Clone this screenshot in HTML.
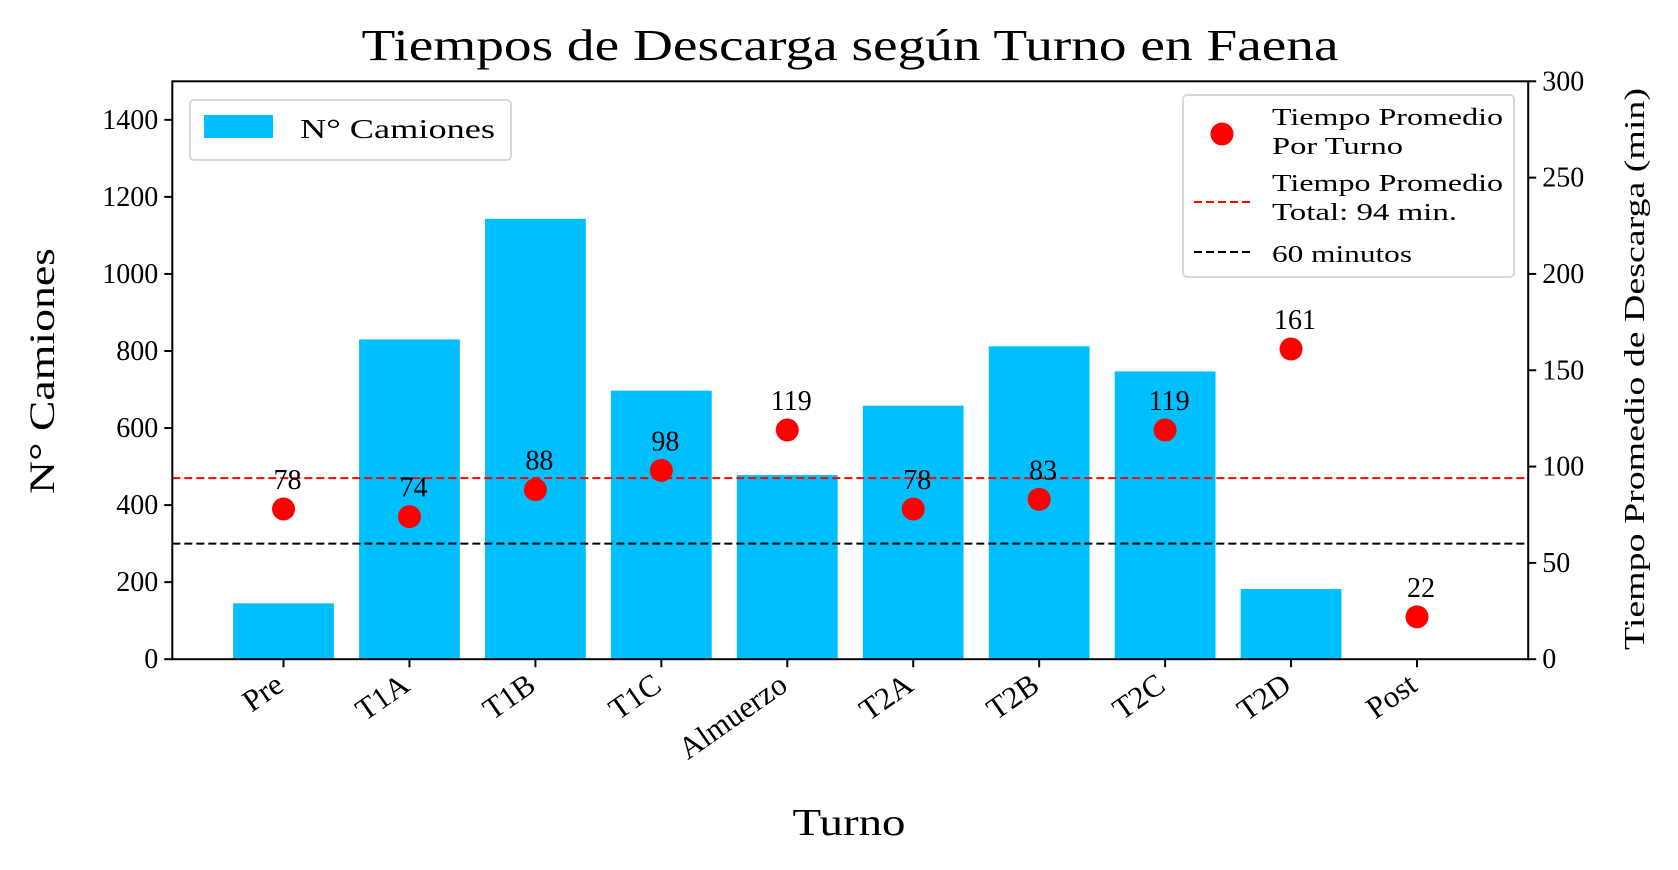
<!DOCTYPE html>
<html><head><meta charset="utf-8"><style>
body{margin:0;background:#fff}
svg{display:block;font-family:"Liberation Serif",serif}
</style></head><body>
<svg id="chart" width="1678" height="870" viewBox="0 0 1678 870">
<text x="850" y="60" font-size="44" text-anchor="middle" textLength="977" lengthAdjust="spacingAndGlyphs">Tiempos de Descarga según Turno en Faena</text>
<g id="plot"></g>
<text transform="translate(54,371) rotate(-90)" font-size="36" text-anchor="middle" textLength="246" lengthAdjust="spacingAndGlyphs">N° Camiones</text>
<text transform="translate(1644,369) rotate(-90)" font-size="28" text-anchor="middle" textLength="562" lengthAdjust="spacingAndGlyphs">Tiempo Promedio de Descarga (min)</text>
<text x="849" y="835" font-size="38" text-anchor="middle" textLength="113" lengthAdjust="spacingAndGlyphs">Turno</text>
<g>
<rect x="190" y="100" width="321" height="60" rx="4" fill="#fff" stroke="#d8d8d8" stroke-width="2"/>
<rect x="204" y="115" width="69" height="23" fill="#00bfff"/>
<text x="300" y="138" font-size="27" textLength="195" lengthAdjust="spacingAndGlyphs">N° Camiones</text>
</g>
<g>
<rect x="1183" y="95" width="331" height="182" rx="4" fill="#fff" stroke="#d8d8d8" stroke-width="2"/>
<circle cx="1222" cy="134" r="11.5" fill="#ff0000"/>
<text x="1272" y="125" font-size="24" textLength="231" lengthAdjust="spacingAndGlyphs">Tiempo Promedio</text>
<text x="1272" y="154" font-size="24" textLength="131" lengthAdjust="spacingAndGlyphs">Por Turno</text>
<line x1="1194" y1="202" x2="1250" y2="202" stroke="#ff0000" stroke-width="2" stroke-dasharray="8,4"/>
<text x="1272" y="191" font-size="24" textLength="231" lengthAdjust="spacingAndGlyphs">Tiempo Promedio</text>
<text x="1272" y="220" font-size="24" textLength="185" lengthAdjust="spacingAndGlyphs">Total: 94 min.</text>
<line x1="1194" y1="252" x2="1250" y2="252" stroke="#000" stroke-width="2" stroke-dasharray="8,4"/>
<text x="1272" y="262" font-size="24" textLength="140" lengthAdjust="spacingAndGlyphs">60 minutos</text>
</g>
</svg>
<script>
const categories=["Pre","T1A","T1B","T1C","Almuerzo","T2A","T2B","T2C","T2D","Post"];
const camiones=[145,830,1143,697,478,658,812,747,182,0];
const tiempos=[78,74,88,98,119,78,83,119,161,22];
const promedioTotal=94;
const limite60=60;
const yTicks=[0,200,400,600,800,1000,1200,1400];
const y2Ticks=[0,50,100,150,200,250,300];

const L=172.3,R=1528.2,T=81.3,B=659.2,pad=0.883;
const n=categories.length;
const xs=i=>L+(i+pad)*(R-L)/(n-1+2*pad);
const step=(R-L)/(n-1+2*pad);
const y=v=>B-v*(B-T)/1500;
const y2=v=>B-v*(B-T)/300;
const NS="http://www.w3.org/2000/svg";
const g=document.getElementById('plot');
function mk(tag,attrs,parent){const e=document.createElementNS(NS,tag);for(const k in attrs)e.setAttribute(k,attrs[k]);(parent||g).appendChild(e);return e;}

categories.forEach((c,i)=>{
  const h=camiones[i];
  const r=mk('rect',{x:xs(i)-0.4*step,y:y(h),width:0.8*step,height:B-y(h),fill:'#00bfff'});
  
  
});
[[promedioTotal,'#ff0000','avg-total-line'],[limite60,'#000','sixty-min-line']].forEach(([v,col,nm])=>{
  const l=mk('line',{x1:L,x2:R,y1:y2(v),y2:y2(v),stroke:col,'stroke-width':2,'stroke-dasharray':'8,4'});
  
  
});
tiempos.forEach((v,i)=>{
  const p=mk('circle',{cx:xs(i),cy:y2(v),r:11.5,fill:'#ff0000'});
  
  
  const t=mk('text',{x:xs(i)+4,y:y2(v)-20,'font-size':28,'text-anchor':'middle'});
  t.textContent=v;
  
  
});
const frame=mk('rect',{x:L,y:T,width:R-L,height:B-T,fill:'none',stroke:'#000','stroke-width':2});


yTicks.forEach(v=>{
  mk('line',{x1:L-8,x2:L,y1:y(v),y2:y(v),stroke:'#000','stroke-width':2});
  const t=mk('text',{x:L-14,y:y(v)+9,'font-size':28,'text-anchor':'end'});
  t.textContent=v;
  
  
});
y2Ticks.forEach(v=>{
  mk('line',{x1:R,x2:R+8,y1:y2(v),y2:y2(v),stroke:'#000','stroke-width':2});
  const t=mk('text',{x:R+14,y:y2(v)+9,'font-size':28});
  t.textContent=v;
  
  
});
categories.forEach((c,i)=>{
  mk('line',{x1:xs(i),x2:xs(i),y1:B,y2:B+8,stroke:'#000','stroke-width':2});
  const t=mk('text',{transform:`translate(${xs(i)+2},${B+30}) rotate(-35)`,'font-size':31,'text-anchor':'end'});
  t.textContent=c;
  
  
});
</script>
</body></html>
